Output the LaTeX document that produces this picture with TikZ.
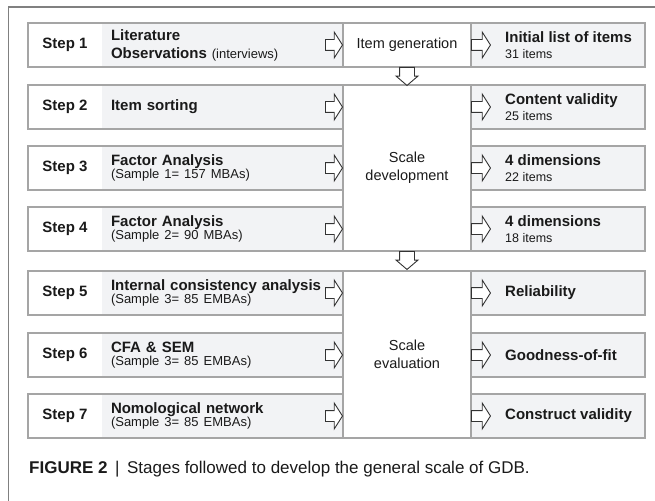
\documentclass[tikz,border=0pt]{standalone}
\usepackage{fontspec}
\setmainfont{Liberation Sans}
\usetikzlibrary{positioning, shapes.arrows}

\definecolor{cellgray}{HTML}{F2F3F5}
\definecolor{rulegray}{HTML}{A5A5A5}
\definecolor{framegray}{HTML}{808080}
\definecolor{arrowgray}{HTML}{333333}
\definecolor{textblack}{HTML}{1A1A1A}

\begin{document}
\begin{tikzpicture}[
  x=1pt, y=-1pt,
  text=textblack,
  font=\fontsize{14.5}{18}\selectfont,
  cell/.style={rectangle, outer sep=0pt, inner sep=0pt, minimum height=44pt},
  steplabel/.style={cell, fill=white, minimum width=74pt,
    font=\fontsize{15}{18}\selectfont\bfseries},
  task/.style={cell, fill=cellgray, text width=223pt, inner xsep=9pt, align=left,
    font=\fontsize{15}{18}\selectfont\bfseries},
  rowframe/.style={draw=rulegray, line width=1.2pt},
  stagebox/.style={cell, draw=rulegray, line width=1.2pt, fill=white,
    minimum width=128pt, align=center},
  outbox/.style={cell, draw=rulegray, line width=1.2pt, fill=cellgray, minimum width=174pt},
  outtext/.style={anchor=west, inner sep=0pt, align=left,
    font=\fontsize{15}{18}\selectfont\bfseries},
  inarrow/.style={single arrow, draw=arrowgray, fill=white, line width=0.9pt,
    minimum height=17pt, inner xsep=0pt, inner ysep=5pt,
    single arrow head extend=7.5pt, single arrow tip angle=115, anchor=tip},
  outarrow/.style={inarrow, minimum height=19pt, anchor=tail},
  downarrow/.style={single arrow, draw=arrowgray, fill=white, line width=0.9pt,
    minimum height=18pt, inner xsep=0pt, inner ysep=7pt,
    single arrow head extend=3.5pt, single arrow tip angle=99,
    rotate=-90, anchor=tail},
]
\newcommand{\subline}[1]{{\mdseries\fontsize{13}{18}\selectfont #1}}
\newcommand{\countline}[1]{{\mdseries\fontsize{12.5}{18}\selectfont #1}}

\useasboundingbox (0,0) rectangle (655,500);

% --- outer frame (top and left edge only) ---
\draw[framegray, line width=1.5pt] (665,7) -- (8.5,7) -- (8.5,510);

% --- Step rows ---
\node[steplabel, anchor=north west] (s1) at (28,23) {Step 1};
\node[task, right=0pt of s1] (t1) {Literature\\Observations \subline{(interviews)}};
\draw[rowframe] (s1.north west) rectangle (t1.south east);

\node[steplabel, anchor=north west] (s2) at (28,85) {Step 2};
\node[task, right=0pt of s2] (t2) {Item sorting};
\draw[rowframe] (s2.north west) rectangle (t2.south east);

\node[steplabel, anchor=north west] (s3) at (28,146) {Step 3};
\node[task, right=0pt of s3] (t3) {Factor Analysis\\[-5pt]\subline{(Sample 1= 157 MBAs)}};
\draw[rowframe] (s3.north west) rectangle (t3.south east);

\node[steplabel, anchor=north west] (s4) at (28,207) {Step 4};
\node[task, right=0pt of s4] (t4) {Factor Analysis\\[-5pt]\subline{(Sample 2= 90 MBAs)}};
\draw[rowframe] (s4.north west) rectangle (t4.south east);

\node[steplabel, anchor=north west] (s5) at (28,271) {Step 5};
\node[task, right=0pt of s5] (t5) {Internal consistency analysis\\[-5pt]\subline{(Sample 3= 85 EMBAs)}};
\draw[rowframe] (s5.north west) rectangle (t5.south east);

\node[steplabel, anchor=north west] (s6) at (28,333) {Step 6};
\node[task, right=0pt of s6] (t6) {CFA \& SEM\\[-5pt]\subline{(Sample 3= 85 EMBAs)}};
\draw[rowframe] (s6.north west) rectangle (t6.south east);

\node[steplabel, anchor=north west] (s7) at (28,394) {Step 7};
\node[task, right=0pt of s7] (t7) {Nomological network\\[-5pt]\subline{(Sample 3= 85 EMBAs)}};
\draw[rowframe] (s7.north west) rectangle (t7.south east);

% --- stages (middle column) ---
\node[stagebox, anchor=north west] (gen) at (t1.north east) {Item generation};
\node[stagebox, anchor=north west, minimum height=166pt] (dev) at (t2.north east) {Scale\\development};
\node[stagebox, anchor=north west, minimum height=167pt] (eval) at (t5.north east) {Scale\\evaluation};

% --- results (right column) ---
\node[outbox, anchor=north west] (r1) at (t1.north east -| gen.east) {};
\node[outbox, anchor=north west] (r2) at (t2.north east -| gen.east) {};
\node[outbox, anchor=north west] (r3) at (t3.north east -| gen.east) {};
\node[outbox, anchor=north west] (r4) at (t4.north east -| gen.east) {};
\node[outbox, anchor=north west] (r5) at (t5.north east -| gen.east) {};
\node[outbox, anchor=north west] (r6) at (t6.north east -| gen.east) {};
\node[outbox, anchor=north west] (r7) at (t7.north east -| gen.east) {};

\node[outtext] (o1) at ([xshift=34pt]r1.west) {Initial list of items\\[-2pt]\countline{31 items}};
\node[outtext] (o2) at ([xshift=34pt]r2.west) {Content validity\\[-2pt]\countline{25 items}};
\node[outtext] (o3) at ([xshift=34pt]r3.west) {4 dimensions\\[-2pt]\countline{22 items}};
\node[outtext] (o4) at ([xshift=34pt]r4.west) {4 dimensions\\[-2pt]\countline{18 items}};
\node[outtext] (o5) at ([xshift=34pt]r5.west) {Reliability};
\node[outtext] (o6) at ([xshift=34pt]r6.west) {Goodness-of-fit};
\node[outtext] (o7) at ([xshift=34pt]r7.west) {Construct validity};

% --- block arrows ---
\node[inarrow] (a1) at (t1.east) {};
\node[inarrow] (a2) at (t2.east) {};
\node[inarrow] (a3) at (t3.east) {};
\node[inarrow] (a4) at (t4.east) {};
\node[inarrow] (a5) at (t5.east) {};
\node[inarrow] (a6) at (t6.east) {};
\node[inarrow] (a7) at (t7.east) {};

\node[outarrow] (b1) at (r1.west) {};
\node[outarrow] (b2) at (r2.west) {};
\node[outarrow] (b3) at (r3.west) {};
\node[outarrow] (b4) at (r4.west) {};
\node[outarrow] (b5) at (r5.west) {};
\node[outarrow] (b6) at (r6.west) {};
\node[outarrow] (b7) at (r7.west) {};

\node[downarrow] (d1) at (gen.south) {};
\node[downarrow] (d2) at (dev.south) {};

% --- caption ---
\node[anchor=west, inner sep=0pt, font=\fontsize{17}{20}\selectfont] (caption) at (29,469)
  {\textbf{FIGURE 2} \,|\, Stages followed to develop the general scale of GDB.};
\end{tikzpicture}
\end{document}
